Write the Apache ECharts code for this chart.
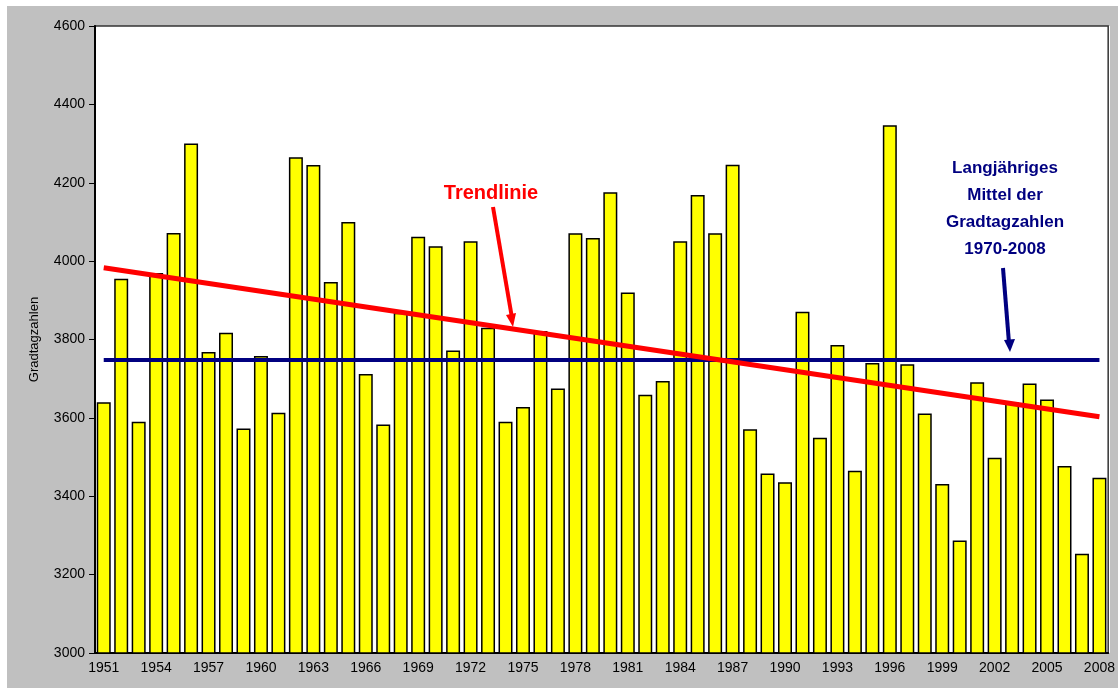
<!DOCTYPE html>
<html>
<head>
<meta charset="utf-8">
<script src="https://cdn.jsdelivr.net/npm/echarts@6/dist/echarts.min.js"></script>
<style>
    html, body { margin: 0; padding: 0; background: #fff; }
    #chart { width: 1118px; height: 688px; }
</style>
</head>
<body>
<div id="chart"></div>
<script>
    // Jahre und Gradtagzahlen
    var years = [];
    for (var y = 1951; y <= 2008; y++) years.push(String(y));

    var gradtagzahlen = [
        3640, 3955, 3590, 3970, 4072, 4300, 3768, 3817, 3573, 3758,
        3613, 4265, 4245, 3947, 4100, 3712, 3583, 3868, 4062, 4038,
        3772, 4051, 3830, 3590, 3628, 3822, 3675, 4071, 4059, 4176,
        3920, 3659, 3694, 4051, 4169, 4071, 4246, 3571, 3458, 3436,
        3871, 3549, 3786, 3465, 3740, 4347, 3737, 3611, 3431, 3287,
        3691, 3498, 3639, 3688, 3647, 3477, 3253, 3447
    ];

    // Trendlinie (Anfang/Ende) und langjähriges Mittel
    var trendStart = 3983;
    var trendEnd = 3603;
    var mittel = 3748;

    var yTicks = [3000, 3200, 3400, 3600, 3800, 4000, 4200, 4400, 4600];

    var font = '"Liberation Sans", Arial, sans-serif';

    var myChart = echarts.init(document.getElementById('chart'));
    myChart.setOption({
        animation: false,
        backgroundColor: '#ffffff',
        graphic: [
            {   // grauer Hintergrund
                type: 'rect', z: -10, silent: true,
                shape: { x: 7, y: 6, width: 1111, height: 682 },
                style: { fill: '#c0c0c0' }
            },
            {
                type: 'rect', z: -9, silent: true,
                shape: { x: 95, y: 26, width: 1015, height: 627 },
                style: { fill: '#ffffff' }
            },
            {
                type: 'text', x: 491, y: 193, z: 50,
                style: {
                    text: 'Trendlinie', fill: '#ff0000', font: 'bold 20px ' + font,
                    align: 'center', verticalAlign: 'middle'
                }
            },
            {
                type: 'line', z: 50,
                shape: { x1: 493, y1: 207, x2: 512, y2: 318 },
                style: { stroke: '#ff0000', lineWidth: 4 }
            },
            {
                type: 'polygon', z: 50,
                shape: { points: [[513, 327], [516, 313], [506, 315]] },
                style: { fill: '#ff0000' }
            },
            {
                type: 'text', z: 50, x: 1005, y: 155,
                style: {
                    text: 'Langjähriges\nMittel der\nGradtagzahlen\n1970-2008',
                    fill: '#000080', font: 'bold 17px ' + font,
                    align: 'center', verticalAlign: 'top', lineHeight: 27
                }
            },
            {
                type: 'line', z: 50,
                shape: { x1: 1003, y1: 268, x2: 1009, y2: 343 },
                style: { stroke: '#000080', lineWidth: 4 }
            },
            {
                type: 'polygon', z: 50,
                shape: { points: [[1010, 352], [1015, 339], [1004, 340]] },
                style: { fill: '#000080' }
            }
        ],
        grid: {
            left: 95, top: 26, right: 8, bottom: 35,
            show: true, borderColor: '#333', borderWidth: 1.5,
            backgroundColor: '#ffffff'
        },
        xAxis: {
            type: 'category',
            data: years,
            boundaryGap: true,
            axisLine: { lineStyle: { color: '#000', width: 2 } },
            axisTick: { interval: 0, length: 5, lineStyle: { color: '#000' } },
            axisLabel: { interval: 2, color: '#000', fontSize: 14, fontFamily: font, margin: 8 }
        },
        yAxis: {
            type: 'value',
            min: yTicks[0], max: yTicks[yTicks.length - 1], interval: 200,
            name: 'Gradtagzahlen',
            nameLocation: 'middle', nameRotate: 90, nameGap: 54,
            nameTextStyle: { color: '#000', fontSize: 13, fontFamily: font },
            splitLine: { show: false },
            axisLine: { show: true, lineStyle: { color: '#000', width: 2 } },
            axisTick: { show: true, length: 6, lineStyle: { color: '#000' } },
            axisLabel: {
                color: '#000', fontSize: 14, fontFamily: font, margin: 10,
                formatter: function (v) { return String(v); }
            }
        },
        series: [
            {
                name: 'Gradtagzahlen',
                type: 'bar',
                data: gradtagzahlen,
                barCategoryGap: '20%',
                itemStyle: { color: '#ffff00', borderColor: '#000', borderWidth: 1.5 },
                markLine: {
                    silent: true,
                    symbol: 'none',
                    label: { show: false },
                    data: [
                        [
                            { coord: [years[0], mittel], lineStyle: { color: '#000080', width: 4, type: 'solid' } },
                            { coord: [years[years.length - 1], mittel] }
                        ],
                        [
                            { coord: [years[0], trendStart], lineStyle: { color: '#ff0000', width: 5, type: 'solid' } },
                            { coord: [years[years.length - 1], trendEnd] }
                        ]
                    ]
                }
            }
        ]
    });
</script>
</body>
</html>
